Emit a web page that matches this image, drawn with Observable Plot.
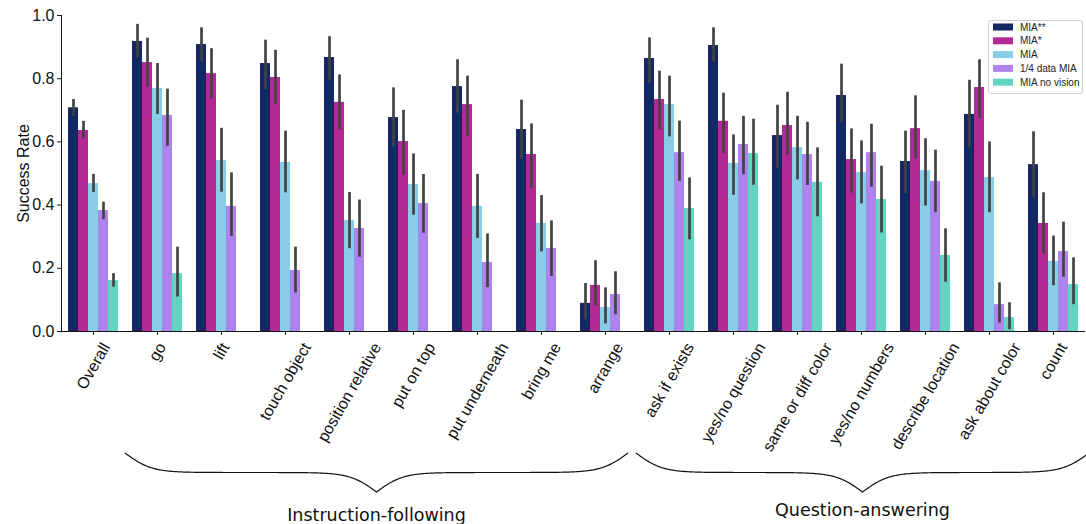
<!DOCTYPE html>
<html><head><meta charset="utf-8">
<script src="https://cdn.jsdelivr.net/npm/d3@7"></script>
<script src="https://cdn.jsdelivr.net/npm/@observablehq/plot@0.6"></script>
<style>
html,body{margin:0;padding:0;background:#fff;}
#wrap{position:relative;width:1086px;height:524px;overflow:hidden;}
</style></head>
<body><div id="wrap"></div>
<script>
// ---- data ----
const categories = ["Overall","go","lift","touch object","position relative","put on top","put underneath","bring me","arrange","ask if exists","yes/no question","same or diff color","yes/no numbers","describe location","ask about color","count"];
const series = ["MIA**","MIA*","MIA","1/4 data MIA","MIA no vision"];
const colors = ["#132864","#b42894","#89cce6","#ae84ec","#5fd5c2"];
const yTicks = [0,0.2,0.4,0.6,0.8,1.0];
const groups = [
  {label: "Instruction-following", from: "go", to: "arrange"},
  {label: "Question-answering", from: "ask if exists", to: "count"}
];

const miaSS      = [0.708,0.918,0.908,0.848,0.867,0.677,0.775,0.639,0.089,0.864,0.905,0.620,0.747,0.538,0.687,0.528];
const miaSS_lo   = [0.681,0.866,0.855,0.765,0.796,0.585,0.691,0.545,0.037,0.786,0.852,0.515,0.662,0.436,0.581,0.425];
const miaSS_hi   = [0.734,0.972,0.961,0.922,0.933,0.771,0.860,0.732,0.152,0.929,0.961,0.716,0.846,0.634,0.795,0.632];

const miaS       = [0.636,0.851,0.816,0.804,0.725,0.601,0.718,0.560,0.146,0.734,0.665,0.652,0.544,0.642,0.772,0.342];
const miaS_lo    = [0.610,0.774,0.736,0.719,0.637,0.495,0.618,0.453,0.080,0.637,0.564,0.557,0.438,0.547,0.674,0.245];
const miaS_hi    = [0.665,0.928,0.895,0.890,0.812,0.700,0.808,0.657,0.224,0.824,0.754,0.757,0.641,0.746,0.860,0.439];

const mia        = [0.468,0.769,0.541,0.535,0.351,0.465,0.396,0.342,0.076,0.718,0.532,0.582,0.503,0.509,0.487,0.222];
const mia_lo     = [0.440,0.687,0.441,0.439,0.262,0.368,0.295,0.252,0.024,0.616,0.431,0.480,0.404,0.397,0.376,0.145];
const mia_hi     = [0.497,0.848,0.643,0.634,0.440,0.562,0.497,0.430,0.138,0.808,0.622,0.681,0.603,0.610,0.600,0.302];

const quarter    = [0.383,0.684,0.396,0.193,0.326,0.405,0.218,0.263,0.117,0.566,0.592,0.560,0.566,0.475,0.085,0.253];
const quarter_lo = [0.354,0.586,0.301,0.122,0.235,0.311,0.139,0.174,0.053,0.475,0.496,0.462,0.457,0.376,0.027,0.172];
const quarter_hi = [0.409,0.767,0.502,0.267,0.416,0.497,0.309,0.350,0.189,0.666,0.681,0.662,0.656,0.574,0.154,0.346];

const noVision    = [0.161,0.183,null,null,null,null,null,null,null,0.389,0.563,0.472,0.418,0.241,0.044,0.149];
const noVision_lo = [0.140,0.109,null,null,null,null,null,null,null,0.290,0.463,0.363,0.312,0.156,0.006,0.085];
const noVision_hi = [0.183,0.267,null,null,null,null,null,null,null,0.486,0.672,0.581,0.523,0.325,0.091,0.233];

const means = [miaSS, miaS, mia, quarter, noVision];
const lows  = [miaSS_lo, miaS_lo, mia_lo, quarter_lo, noVision_lo];
const highs = [miaSS_hi, miaS_hi, mia_hi, quarter_hi, noVision_hi];

const rows = [];
series.forEach((s, si) => categories.forEach((c, ci) => {
  const v = means[si][ci];
  if (v == null) return;
  rows.push({cat: c, series: s, value: v, lo: lows[si][ci], hi: highs[si][ci]});
}));

// ---- rotated category labels (matplotlib-style: rotated box centred under the tick) ----
const FONT = "'Liberation Sans', Arial, sans-serif";
const ctx = document.createElement("canvas").getContext("2d");
ctx.font = "16px " + FONT;
const labelMarks = categories.map(c => {
  const L = ctx.measureText(c).width;
  const H = L * Math.sin(Math.PI / 3) + 15 * Math.cos(Math.PI / 3);
  return Plot.text([c], {fx: d => d, text: d => d, frameAnchor: "bottom", rotate: -60,
    textAnchor: "middle", lineAnchor: "middle", dy: 9 + H / 2, fontSize: 16, fill: "#111"});
});

// ---- chart ----
const plot = Plot.plot({
  width: 1086, height: 524,
  marginLeft: 60, marginRight: 0, marginTop: 15, marginBottom: 193,
  style: {fontFamily: FONT, fontSize: "16px", color: "#111", background: "white", overflow: "visible"},
  fx: {domain: categories, padding: 0, label: null, tickFormat: () => "", tickSize: 4},
  x: {domain: series, paddingInner: 0, paddingOuter: 0.625, axis: null},
  y: {domain: [0, 1], ticks: yTicks, tickFormat: d3.format(".1f"), label: "Success Rate",
      labelAnchor: "center", labelArrow: "none", labelOffset: 44, tickSize: 4, tickPadding: 3, line: true},
  color: {domain: series, range: colors},
  marks: [
    Plot.barY(rows, {fx: "cat", x: "series", y: "value", fill: "series"}),
    Plot.ruleX(rows, {fx: "cat", x: "series", y1: "lo", y2: "hi", stroke: "#424242", strokeWidth: 2.7}),
    Plot.ruleY([0], {stroke: "#111", strokeWidth: 1.2}),
    ...labelMarks
  ]
});
document.getElementById("wrap").appendChild(plot);

// ---- braces + group labels, positioned with Plot's fx scale ----
const fx = plot.scale("fx");
const bw = fx.bandwidth;
const svg = d3.select(plot.tagName.toLowerCase() === "svg" ? plot : plot.querySelector("svg"));
const bandStart = c => fx.apply(c);
function bracePoints(x0, x1, yTop, depth) {
  const c = (x0 + x1) / 2, n = 240, beta = 0.075;
  const half = [];
  for (let i = 0; i <= n; i++) {
    const x = x0 + (c - x0) * i / n;
    const v = 1 / (1 + Math.exp(-beta * (x - x0))) + 1 / (1 + Math.exp(-beta * (x - c)));
    half.push([x, yTop + (v - 0.5) * depth]);
  }
  const other = half.slice(0, -1).reverse().map(([x, y]) => [2 * c - x, y]);
  return half.concat(other);
}
const yScale = plot.scale("y");
const baseY = yScale.apply(0);
const braceSpecs = [
  {x0: bandStart(groups[0].from), x1: bandStart("ask if exists") - 9, labelY: 521},
  {x0: bandStart(groups[1].from) - 1, x1: bandStart(groups[1].to) + bw + 4, labelY: 516}
];
groups.forEach((g, i) => {
  const s = braceSpecs[i];
  svg.append("path")
    .attr("d", d3.line()(bracePoints(s.x0, s.x1, baseY + 122, 39)))
    .attr("fill", "none").attr("stroke", "#111").attr("stroke-width", 1.2);
  svg.append("text")
    .attr("x", (s.x0 + s.x1) / 2).attr("y", s.labelY)
    .attr("text-anchor", "middle")
    .attr("font-family", "'DejaVu Sans', sans-serif").attr("font-size", 17.5).attr("fill", "#111")
    .text(g.label);
});

// ---- legend (top-right, inside plot) ----
const color = plot.scale("color");
const lg = svg.append("g").attr("transform", "translate(988,20)");
lg.append("rect").attr("x", 0.5).attr("y", 0.5).attr("width", 94).attr("height", 73).attr("rx", 2.5)
  .attr("fill", "white").attr("fill-opacity", 0.85).attr("stroke", "#cfcfcf");
color.domain.forEach((s, i) => {
  const yy = 7 + i * 13.8;
  lg.append("rect").attr("x", 5).attr("y", yy - 3.5).attr("width", 20).attr("height", 7).attr("fill", color.range[i]);
  lg.append("text").attr("x", 32).attr("y", yy).attr("dy", "0.35em").attr("text-anchor", "start")
    .attr("font-family", FONT).attr("font-size", 10).attr("fill", "#222").text(s);
});
</script></body></html>
